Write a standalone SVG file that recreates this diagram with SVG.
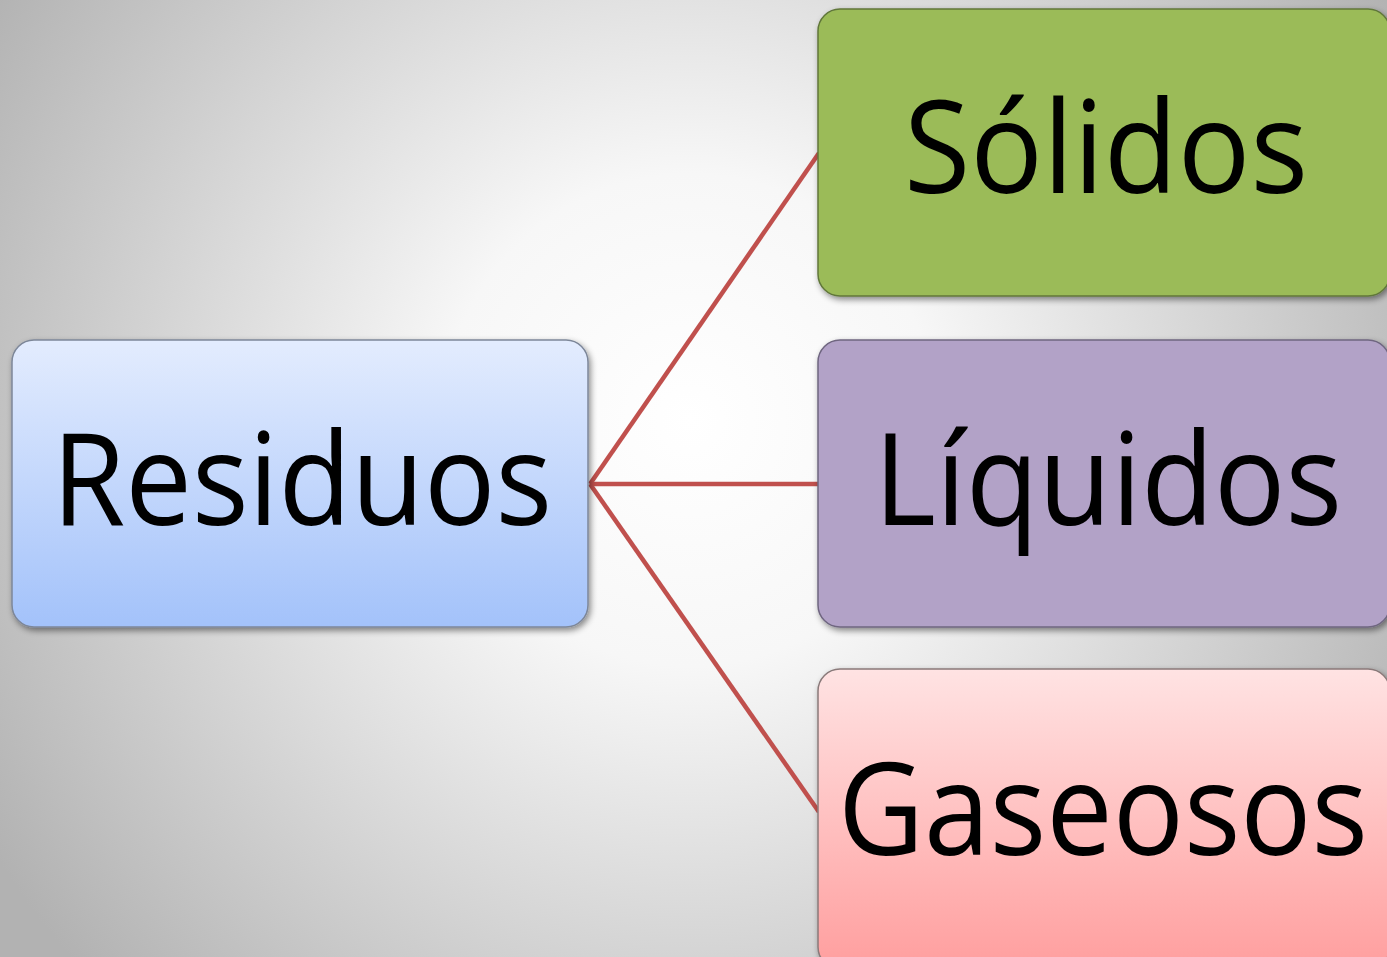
<svg xmlns="http://www.w3.org/2000/svg" width="1387" height="957" viewBox="0 0 1387 957">
<defs>
<radialGradient id="bg" gradientUnits="userSpaceOnUse" cx="690" cy="420" r="820">
<stop offset="0" stop-color="#ffffff"/>
<stop offset="0.3" stop-color="#f7f7f7"/>
<stop offset="1" stop-color="#b2b2b2"/>
</radialGradient>
<linearGradient id="gBlue" x1="0" y1="0" x2="0" y2="1">
<stop offset="0" stop-color="#E3ECFE"/>
<stop offset="1" stop-color="#A3C2FA"/>
</linearGradient>
<linearGradient id="gPink" x1="0" y1="0" x2="0" y2="1">
<stop offset="0" stop-color="#FFE3E3"/>
<stop offset="1" stop-color="#FF9E9E"/>
</linearGradient>
<filter id="sh" x="-10%" y="-10%" width="130%" height="130%">
<feDropShadow dx="2" dy="3" stdDeviation="3" flood-color="#000" flood-opacity="0.45"/>
</filter>
</defs>
<style>
.box{stroke-width:1.5;filter:url(#sh)}
.lbl{font-family:"Open Sans","Noto Sans","Liberation Sans",sans-serif;font-size:129px;fill:#000;text-anchor:middle}
.con{stroke:#C0504D;stroke-width:4.5;fill:none}
</style>
<rect x="0" y="0" width="1387" height="957" fill="url(#bg)"/>
<g id="connectors">
<line class="con" x1="590" y1="484" x2="819" y2="153"/>
<line class="con" x1="590" y1="484" x2="819" y2="484"/>
<line class="con" x1="590" y1="484" x2="819" y2="812"/>
</g>
<g id="node-residuos">
<rect class="box" x="12" y="340" width="576" height="287" rx="22" fill="url(#gBlue)" stroke="#7d8799"/>
<text class="lbl" x="302" y="525" textLength="500" lengthAdjust="spacingAndGlyphs">Residuos</text>
</g>
<g id="node-solidos">
<rect class="box" x="818" y="9" width="572" height="287" rx="22" fill="#9BBB59" stroke="#61773a"/>
<text class="lbl" x="1106" y="193" textLength="404" lengthAdjust="spacingAndGlyphs">Sólidos</text>
</g>
<g id="node-liquidos">
<rect class="box" x="818" y="340" width="572" height="287" rx="22" fill="#B2A2C7" stroke="#6f6680"/>
<text class="lbl" x="1108" y="525" textLength="468" lengthAdjust="spacingAndGlyphs">Líquidos</text>
</g>
<g id="node-gaseosos">
<rect class="box" x="818" y="669" width="572" height="300" rx="22" fill="url(#gPink)" stroke="#8a7a7a"/>
<text class="lbl" x="1103" y="855" textLength="530" lengthAdjust="spacingAndGlyphs">Gaseosos</text>
</g>
</svg>
